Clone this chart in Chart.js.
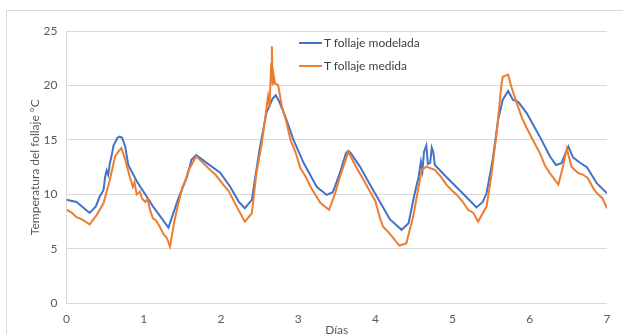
<!DOCTYPE html>
<html>
<head>
<meta charset="utf-8">
<script src="https://cdn.jsdelivr.net/npm/chart.js@4/dist/chart.umd.min.js"></script>
<style>
  html, body { margin: 0; padding: 0; background: #fff; overflow: hidden; }
  #wrap { position: relative; width: 623px; height: 334px; }
  #frame { position: absolute; left: 6px; top: 10px; width: 640px; height: 360px;
           border-left: 1px solid #d9d9d9; border-top: 1px solid #d9d9d9; }
  canvas { position: absolute; left: 0; top: 0; }
  .leg { position: absolute; left: 299px; font: 12px Lato, "Liberation Sans", sans-serif; color: #404040;
         display: flex; align-items: center; white-space: nowrap; }
  .leg span.sw { display: inline-block; width: 23px; height: 2px; margin-right: 2px; }
</style>
</head>
<body>
<div id="wrap">
  <div id="frame"></div>
  <canvas id="c" width="623" height="334"></canvas>
  <div class="leg" style="top:35px"><span class="sw" style="background:#4472C4"></span>T follaje modelada</div>
  <div class="leg" style="top:58px"><span class="sw" style="background:#ED7D31"></span>T follaje medida</div>
</div>
<script>
// Modelled foliage temperature (T follaje modelada)
const daysModel = [0, 0.13, 0.3, 0.38, 0.43, 0.48, 0.5, 0.52, 0.54, 0.56, 0.58, 0.61, 0.66, 0.69, 0.72, 0.76, 0.8, 0.91, 1.12, 1.32, 1.45, 1.56, 1.62, 1.68, 1.82, 1.99, 2.12, 2.23, 2.31, 2.4, 2.5, 2.59, 2.67, 2.71, 2.75, 2.83, 2.94, 3.07, 3.24, 3.37, 3.45, 3.54, 3.62, 3.65, 3.68, 3.8, 3.97, 4.06, 4.19, 4.34, 4.43, 4.51, 4.56, 4.59, 4.61, 4.63, 4.66, 4.68, 4.71, 4.73, 4.75, 4.77, 4.92, 5.13, 5.31, 5.39, 5.44, 5.52, 5.59, 5.65, 5.72, 5.78, 5.85, 5.96, 6.13, 6.26, 6.34, 6.41, 6.5, 6.56, 6.65, 6.74, 6.87, 7.0];
const tModelada = [9.5, 9.3, 8.3, 8.9, 9.8, 10.4, 11.6, 12.2, 11.8, 12.8, 13.4, 14.5, 15.2, 15.3, 15.2, 14.4, 12.7, 11.2, 8.9, 6.95, 9.65, 11.6, 13.2, 13.6, 12.87, 12.0, 10.7, 9.34, 8.73, 9.5, 14.1, 17.5, 18.8, 19.1, 18.6, 17.2, 15.0, 12.9, 10.7, 9.95, 10.2, 11.95, 13.8, 14.0, 13.8, 12.55, 10.4, 9.3, 7.7, 6.75, 7.35, 10.1, 11.6, 13.0, 12.2, 13.9, 14.5, 12.8, 12.9, 14.3, 13.9, 12.7, 11.6, 10.1, 8.8, 9.3, 10.1, 13.2, 16.85, 18.7, 19.5, 18.7, 18.5, 17.46, 15.3, 13.5, 12.7, 12.87, 14.4, 13.4, 12.9, 12.5, 11.0, 10.1];

// Measured foliage temperature (T follaje medida)
const daysMedida = [0, 0.07, 0.13, 0.2, 0.3, 0.39, 0.48, 0.56, 0.63, 0.68, 0.71, 0.76, 0.82, 0.86, 0.88, 0.91, 0.95, 0.98, 1.02, 1.05, 1.08, 1.12, 1.16, 1.21, 1.26, 1.3, 1.34, 1.4, 1.45, 1.5, 1.54, 1.58, 1.68, 1.86, 1.93, 2.03, 2.1, 2.18, 2.31, 2.4, 2.46, 2.53, 2.57, 2.61, 2.63, 2.65, 2.66, 2.67, 2.68, 2.7, 2.74, 2.79, 2.85, 2.9, 2.96, 3.03, 3.1, 3.16, 3.22, 3.29, 3.4, 3.48, 3.54, 3.65, 3.76, 3.85, 3.93, 4.0, 4.06, 4.1, 4.16, 4.23, 4.31, 4.4, 4.49, 4.56, 4.6, 4.66, 4.77, 4.85, 4.92, 5.0, 5.05, 5.13, 5.2, 5.27, 5.33, 5.44, 5.5, 5.57, 5.63, 5.65, 5.72, 5.76, 5.83, 5.9, 5.96, 6.04, 6.13, 6.2, 6.26, 6.37, 6.43, 6.48, 6.54, 6.62, 6.69, 6.75, 6.82, 6.87, 6.94, 7.0];
const tMedida = [8.6, 8.3, 7.9, 7.7, 7.25, 8.1, 9.2, 11.3, 13.5, 14.0, 14.25, 13.2, 11.6, 10.7, 11.1, 10.0, 10.25, 9.6, 9.3, 9.6, 8.6, 7.8, 7.6, 7.0, 6.3, 6.0, 5.2, 7.65, 9.2, 10.6, 11.3, 12.2, 13.5, 12.25, 11.8, 10.9, 10.3, 9.2, 7.5, 8.27, 11.95, 14.7, 16.85, 19.0, 18.0, 22.0, 23.6, 20.0, 21.1, 20.2, 20.05, 18.07, 16.6, 15.0, 14.0, 12.4, 11.6, 10.7, 10.0, 9.2, 8.58, 10.1, 11.6, 13.9, 12.4, 11.3, 10.26, 9.4, 7.8, 7.04, 6.6, 6.0, 5.3, 5.5, 7.96, 10.7, 12.25, 12.55, 12.25, 11.6, 10.9, 10.3, 10.0, 9.34, 8.58, 8.3, 7.5, 8.88, 11.6, 15.6, 19.9, 20.8, 21.0, 19.9, 18.4, 17.0, 16.1, 15.0, 13.8, 12.6, 11.95, 10.9, 12.55, 14.2, 12.55, 12.0, 11.8, 11.5, 10.6, 10.1, 9.65, 8.73];

const xTicks = [0, 1, 2, 3, 4, 5, 6, 7];
const yTicks = [0, 5, 10, 15, 20, 25];

const FONT = 'Lato, "Liberation Sans", sans-serif';
const GRAY = '#595959';

new Chart(document.getElementById('c'), {
  type: 'line',
  data: {
    datasets: [
      { label: 'T follaje modelada', data: daysModel.map((d, i) => ({ x: d, y: tModelada[i] })),
        borderColor: '#4472C4', borderWidth: 2, pointRadius: 0, tension: 0, order: 1 },
      { label: 'T follaje medida', data: daysMedida.map((d, i) => ({ x: d, y: tMedida[i] })),
        borderColor: '#ED7D31', borderWidth: 2, pointRadius: 0, tension: 0, order: 0 }
    ]
  },
  options: {
    responsive: false,
    animation: false,
    layout: { padding: { left: 0, top: 31, right: 16, bottom: 0 } },
    plugins: { legend: { display: false }, tooltip: { enabled: false } },
    scales: {
      x: {
        type: 'linear', min: 0, max: 7,
        afterBuildTicks: s => { s.ticks = xTicks.map(v => ({ value: v })); },
        afterFit: s => { s.height = 30.7; },
        grid: { display: false, drawTicks: false },
        border: { display: false },
        ticks: { padding: 9, color: GRAY, font: { family: FONT, size: 12 } },
        title: { display: true, text: 'Días', color: GRAY, font: { family: FONT, size: 12 },
                 padding: { top: 0, bottom: -3 } }
      },
      y: {
        min: 0, max: 25,
        afterBuildTicks: s => { s.ticks = yTicks.map(v => ({ value: v })); },
        afterFit: s => { s.width = 66.5; },
        grid: { color: '#d9d9d9', lineWidth: 1, drawTicks: false },
        border: { display: true, color: '#d9d9d9', width: 1 },
        ticks: { padding: 9, color: GRAY, font: { family: FONT, size: 12 } },
        title: { display: true, text: 'Temperatura del follaje °C', color: GRAY,
                 font: { family: FONT, size: 12 }, padding: { top: 28, bottom: 0 } }
      }
    }
  }
});
</script>
</body>
</html>
